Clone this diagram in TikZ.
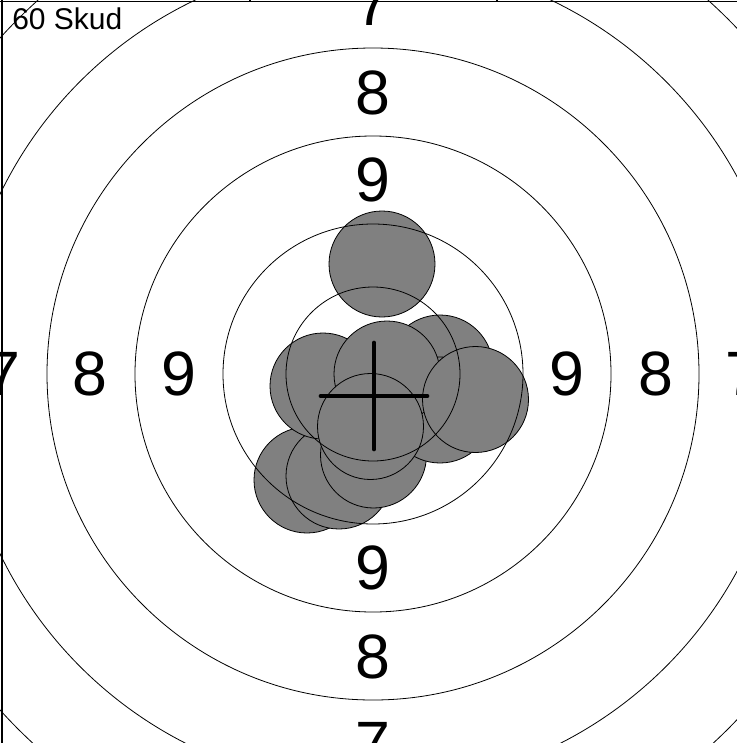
\documentclass[tikz,border=0pt]{standalone}
\usepackage{fontspec}
\setmainfont{Liberation Sans}
\definecolor{shotgray}{HTML}{808080}

\begin{document}
\begin{tikzpicture}[x=0.75pt,y=-0.75pt,
  ring/.style={draw=black,line width=0.6pt},
  shot/.style={draw=black,fill=shotgray,line width=0.6pt},
  ringlabel/.style={inner sep=0pt,font=\fontsize{47}{50}\selectfont},
  cross/.style={line width=3pt,line cap=round},
  frame/.style={line width=1.2pt}
]
\path[use as bounding box] (0,0) rectangle (737,743);
\clip (0,0) rectangle (737,743);

% Mittelpunkt der Scheibe und Trefferbild
\coordinate (c) at (373,374);
\coordinate (mpi) at (374,396);

% Treffer (hinten nach vorne)
\draw[shot] (382,264) circle[radius=53];
\draw[shot] (307,480) circle[radius=53];
\draw[shot] (339,476) circle[radius=53];
\draw[shot] (373.5,455) circle[radius=53];
\draw[shot] (323,386) circle[radius=53];
\draw[shot] (440,368) circle[radius=53];
\draw[shot] (440,410) circle[radius=53];
\draw[shot] (387,374) circle[radius=53];
\draw[shot] (370.5,426.5) circle[radius=53];
\draw[shot] (475.5,399.5) circle[radius=53];

% Ringe
\draw[ring] (c) circle[radius=87];
\draw[ring] (c) circle[radius=150];
\draw[ring] (c) circle[radius=238];
\draw[ring] (c) circle[radius=326];
\draw[ring] (c) circle[radius=414];
\draw[ring] (c) circle[radius=502];

% Ringzahlen
\node[ringlabel] (nine n) at (373,180) {9};
\node[ringlabel] (nine s) at (373,568) {9};
\node[ringlabel] (nine w) at (179,374) {9};
\node[ringlabel] (nine e) at (567,374) {9};
\node[ringlabel] (eight n) at (373,93) {8};
\node[ringlabel] (eight s) at (373,657) {8};
\node[ringlabel] (eight w) at (90,374) {8};
\node[ringlabel] (eight e) at (656,374) {8};
\node[ringlabel] (seven n) at (373,4) {7};
\node[ringlabel] (seven s) at (373,744) {7};
\node[ringlabel] (seven w) at (3,374) {7};
\node[ringlabel] (seven e) at (743,374) {7};

% Mittlere Trefferlage
\draw[cross] ([xshift=-40pt]mpi) -- ([xshift=40pt]mpi);
\draw[cross] ([yshift=40pt]mpi) -- ([yshift=-40pt]mpi);

% Rahmen und Schusszahl
\draw[frame] (0,1.5) -- (737,1.5);
\draw[frame] (2,0) -- (2,743);
\draw[frame] (250,0) -- (250,1.5);
\draw[frame] (497,0) -- (497,1.5);
\node[anchor=base west,inner sep=0pt,font=\fontsize{22.5}{25}\selectfont] (shots) at (12,29) {60 Skud};

\end{tikzpicture}
\end{document}
